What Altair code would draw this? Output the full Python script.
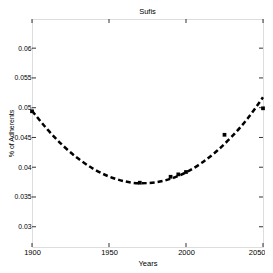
import altair as alt
import pandas as pd

# observed data points
years = [1900, 1970, 1990, 1995, 2000, 2025, 2050]
share = [0.0494, 0.0374, 0.0384, 0.0388, 0.0392, 0.04545, 0.0499]

# fitted curve
fit_years = [1900, 1910, 1920, 1930, 1940, 1950, 1960, 1970, 1980, 1990, 2000, 2010, 2020, 2030, 2040, 2050]
fit_share = [0.0495, 0.04635, 0.04366, 0.04145, 0.03971, 0.03844, 0.03764, 0.0373, 0.03745, 0.03806, 0.03914, 0.0407, 0.04272, 0.04522, 0.04818, 0.05175]

x_ticks = [1900, 1950, 2000, 2050]
y_ticks = [0.03, 0.035, 0.04, 0.045, 0.05, 0.055, 0.06]

W, H = 231, 228
FONT = "Liberation Sans"

pts = pd.DataFrame({"year": years, "share": share})
fit = pd.DataFrame({"year": fit_years, "share": fit_share})
xt = pd.DataFrame({"year": x_ticks})
yt = pd.DataFrame({"share": y_ticks})

xs = alt.Scale(domain=[1900, 2050], nice=False, zero=False)
ys = alt.Scale(domain=[0.0266, 0.0649], nice=False, zero=False)

xax = alt.Axis(values=x_ticks, format="d", title="Years", grid=False, ticks=False,
               labelPadding=1, titlePadding=4, domain=False, labelOverlap=False,
               labelFlush=False, labelFont=FONT, labelFontSize=7.5,
               titleFont=FONT, titleFontSize=7.5, titleFontWeight="normal",
               labelAlign={"condition": {"test": "datum.value == 2050", "value": "right"},
                           "value": "center"},
               labelOffset={"condition": {"test": "datum.value == 2050", "value": 2},
                            "value": 0})
yax = alt.Axis(values=y_ticks, format=".3~f", title="% of Adherents", grid=False,
               ticks=False, labelPadding=1, domain=False, labelOverlap=False,
               labelFlush=False, labelFont=FONT, labelFontSize=6.8,
               titleFont=FONT, titleFontSize=7, titleFontWeight="normal",
               titleAngle=270, titleBaseline="alphabetic", titleAlign="center",
               titleX=-18.5, titleY=H / 2)

X = alt.X("year:Q", scale=xs, axis=xax, title="Years")
Y = alt.Y("share:Q", scale=ys, axis=yax, title="% of Adherents")

line = alt.Chart(fit).mark_line(color="black", strokeWidth=2.5, strokeDash=[5, 3],
                                interpolate="monotone").encode(x=X, y=Y)
points = alt.Chart(pts).mark_square(color="black", size=14, opacity=1).encode(x=X, y=Y)
tick_len = 4
xb = alt.Chart(xt).mark_rule(color="black", strokeWidth=0.8).encode(
    x=X, y=alt.value(H), y2=alt.value(H - tick_len))
xtop = alt.Chart(xt).mark_rule(color="black", strokeWidth=0.8).encode(
    x=X, y=alt.value(0), y2=alt.value(tick_len))
yl = alt.Chart(yt).mark_rule(color="black", strokeWidth=0.8).encode(
    y=Y, x=alt.value(0), x2=alt.value(tick_len))
yr = alt.Chart(yt).mark_rule(color="black", strokeWidth=0.8).encode(
    y=Y, x=alt.value(W), x2=alt.value(W - tick_len))

chart = alt.layer(line, points, xb, xtop, yl, yr).properties(
    width=W, height=H,
    title=alt.Title("Sufis", fontSize=7.5, font=FONT, fontWeight="normal", offset=3),
    autosize="none",
    padding={"left": 24, "top": 11, "right": 2, "bottom": 24},
).configure_view(stroke="#333333", strokeWidth=1).configure_axis(
    labelColor="black", titleColor="black",
).configure(background="white")

chart.save("out.html", embed_options={"renderer": "svg", "actions": False})
